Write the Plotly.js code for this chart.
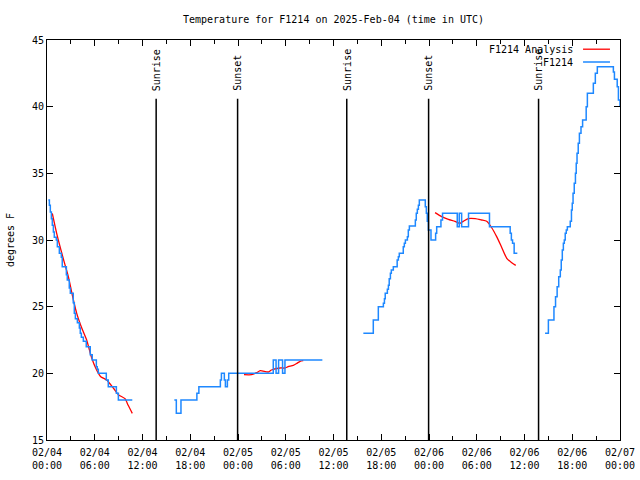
<!DOCTYPE html>
<html><head><meta charset="utf-8">
<script src="https://cdn.plot.ly/plotly-3.0.1.min.js"></script>
<style>html,body{margin:0;padding:0;background:#fff}#chart{width:640px;height:480px}</style>
</head><body><div id="chart"></div>
<script>
// Observed station values (F1214), step-wise; null = data gap
const obsTimes = [
 '2025-02-04 00:10','2025-02-04 00:18','2025-02-04 00:25','2025-02-04 00:33','2025-02-04 00:40','2025-02-04 00:48','2025-02-04 00:55',
 '2025-02-04 01:10','2025-02-04 01:18','2025-02-04 01:33','2025-02-04 01:48','2025-02-04 01:55','2025-02-04 02:26','2025-02-04 02:33',
 '2025-02-04 02:48','2025-02-04 02:56','2025-02-04 03:18','2025-02-04 03:26','2025-02-04 03:34','2025-02-04 03:49','2025-02-04 04:04',
 '2025-02-04 04:11','2025-02-04 04:19','2025-02-04 04:34','2025-02-04 04:56','2025-02-04 05:26','2025-02-04 05:41','2025-02-04 06:12',
 '2025-02-04 06:19','2025-02-04 06:27','2025-02-04 07:27','2025-02-04 07:42','2025-02-04 08:43','2025-02-04 08:58','2025-02-04 10:43',
 '2025-02-04 13:00',
 '2025-02-04 16:00','2025-02-04 16:15','2025-02-04 16:50','2025-02-04 18:50','2025-02-04 19:05','2025-02-04 21:47','2025-02-04 21:55',
 '2025-02-04 22:17','2025-02-04 22:25','2025-02-04 22:40','2025-02-04 22:50','2025-02-05 04:26','2025-02-05 04:47','2025-02-05 05:06',
 '2025-02-05 05:36','2025-02-05 05:54','2025-02-05 10:36',
 '2025-02-05 13:00',
 '2025-02-05 15:45','2025-02-05 17:00','2025-02-05 17:38','2025-02-05 18:16','2025-02-05 18:24','2025-02-05 18:30','2025-02-05 18:46',
 '2025-02-05 18:54','2025-02-05 19:00','2025-02-05 19:09','2025-02-05 19:16','2025-02-05 19:31','2025-02-05 20:00','2025-02-05 20:09',
 '2025-02-05 20:16','2025-02-05 20:46','2025-02-05 20:54','2025-02-05 21:02','2025-02-05 21:17','2025-02-05 21:24','2025-02-05 21:32',
 '2025-02-05 22:17','2025-02-05 22:24','2025-02-05 22:32','2025-02-05 22:40','2025-02-05 22:47','2025-02-05 23:32','2025-02-05 23:40',
 '2025-02-05 23:47','2025-02-05 23:55','2025-02-06 00:15','2025-02-06 00:50','2025-02-06 00:58','2025-02-06 01:30','2025-02-06 01:42',
 '2025-02-06 03:33','2025-02-06 03:48','2025-02-06 04:06','2025-02-06 04:58','2025-02-06 07:36','2025-02-06 10:12','2025-02-06 10:21',
 '2025-02-06 10:30','2025-02-06 10:42','2025-02-06 11:06',
 '2025-02-06 13:00',
 '2025-02-06 14:35','2025-02-06 15:00','2025-02-06 15:42','2025-02-06 15:54','2025-02-06 16:06','2025-02-06 16:18','2025-02-06 16:30',
 '2025-02-06 16:37','2025-02-06 16:45','2025-02-06 16:53','2025-02-06 17:00','2025-02-06 17:07','2025-02-06 17:15','2025-02-06 17:23',
 '2025-02-06 17:45','2025-02-06 17:54','2025-02-06 18:00','2025-02-06 18:06','2025-02-06 18:15','2025-02-06 18:24','2025-02-06 18:30',
 '2025-02-06 18:36','2025-02-06 18:45','2025-02-06 18:54','2025-02-06 19:06','2025-02-06 19:18','2025-02-06 19:45','2025-02-06 19:54',
 '2025-02-06 20:39','2025-02-06 20:54','2025-02-06 21:09','2025-02-06 23:10','2025-02-06 23:18','2025-02-06 23:39','2025-02-06 23:48',
 '2025-02-07 00:00'
];
const obsTemps = [
 33.0,32.6,32.1,31.6,31.1,30.6,30.2,
 30.0,29.5,29.0,28.7,28.0,27.4,27.0,
 26.4,26.0,25.3,24.5,24.1,23.8,23.4,
 23.0,22.7,22.4,22.0,21.4,21.0,20.5,
 20.3,20.0,19.5,19.0,18.5,18.0,18.0,
 null,
 18.0,17.0,18.0,18.5,19.0,19.5,20.0,
 19.5,19.0,19.5,20.0,21.0,20.0,21.0,
 20.0,21.0,21.0,
 null,
 23.0,24.0,25.0,25.25,25.6,26.0,26.3,
 26.6,27.1,27.5,27.75,28.0,28.5,28.75,
 29.0,29.5,29.75,30.0,30.25,30.75,31.05,
 31.5,32.0,32.3,32.6,33.0,32.5,32.0,
 31.4,30.75,30.0,30.5,31.0,31.5,32.0,
 31.0,32.0,31.0,32.0,31.0,30.5,30.0,
 29.75,29.0,29.0,
 null,
 23.0,24.0,25.0,25.75,26.5,27.25,27.75,
 28.5,29.25,29.75,30.0,30.5,30.75,31.0,
 31.4,32.25,32.75,33.5,34.25,35.0,35.75,
 36.5,37.25,38.0,38.5,39.0,40.0,41.0,
 41.75,42.5,43.0,42.6,42.05,41.5,40.5,
 40.0
];
// Analysis values (F1214 Analysis)
const anaTimes = [
 '2025-02-04 00:40','2025-02-04 01:13','2025-02-04 02:11','2025-02-04 02:41','2025-02-04 03:19','2025-02-04 03:44','2025-02-04 04:22',
 '2025-02-04 04:59','2025-02-04 05:37','2025-02-04 06:14','2025-02-04 06:45','2025-02-04 07:30','2025-02-04 08:20','2025-02-04 08:58',
 '2025-02-04 09:48','2025-02-04 10:12','2025-02-04 10:43',
 '2025-02-04 18:00',
 '2025-02-05 00:45','2025-02-05 01:42','2025-02-05 02:21','2025-02-05 02:48','2025-02-05 03:48','2025-02-05 04:12','2025-02-05 05:18',
 '2025-02-05 05:54','2025-02-05 06:18','2025-02-05 06:57','2025-02-05 07:24','2025-02-05 07:48','2025-02-05 08:12',
 '2025-02-05 18:00',
 '2025-02-06 00:46','2025-02-06 01:36','2025-02-06 02:26','2025-02-06 03:16','2025-02-06 03:54','2025-02-06 04:18','2025-02-06 04:56',
 '2025-02-06 05:48','2025-02-06 06:36','2025-02-06 07:15','2025-02-06 07:54','2025-02-06 08:30','2025-02-06 09:06','2025-02-06 09:48',
 '2025-02-06 10:24','2025-02-06 10:54'
];
const anaTemps = [
 32.0,30.5,28.3,27.25,25.5,24.5,23.4,
 22.5,21.15,20.25,19.75,19.5,18.9,18.4,
 18.1,17.6,17.0,
 null,
 19.9,19.9,20.05,20.2,20.1,20.25,20.4,
 20.4,20.5,20.6,20.75,20.9,20.95,
 null,
 32.05,31.75,31.55,31.4,31.25,31.4,31.6,
 31.6,31.5,31.4,30.9,30.25,29.5,28.6,
 28.3,28.1
];
const eventTimes = ['2025-02-04 13:43','2025-02-04 23:57','2025-02-05 13:40','2025-02-05 23:57','2025-02-06 13:46'];
const eventLabels = ['Sunrise','Sunset','Sunrise','Sunset','Sunrise'];
const seriesNames = ['F1214 Analysis','F1214'];
const seriesColors = ['#ff0000','#1e88ff'];

const mono = 'DejaVu Sans Mono, Liberation Mono, monospace';
const traces = [
 {x: anaTimes, y: anaTemps, type:'scatter', mode:'lines', name: seriesNames[0],
  line:{color: seriesColors[0], width:1.3, shape:'spline', smoothing:0.6}, connectgaps:false},
 {x: obsTimes, y: obsTemps, type:'scatter', mode:'lines', name: seriesNames[1],
  line:{color: seriesColors[1], width:1.5, shape:'hv'}, connectgaps:false}
];

const shapes = [];
const annotations = [];
eventTimes.forEach((t,i)=>{
  shapes.push({type:'line', xref:'x', yref:'paper', x0:t, x1:t, y0:0, y1:0.853,
               line:{color:'#000', width:1.5}});
  annotations.push({xref:'x', yref:'paper', x:t, y:0.867, text:eventLabels[i], textangle:-90,
               showarrow:false, xanchor:'center', yanchor:'bottom', font:{family:mono, size:10, color:'#000'}});
});
// gnuplot-style legend: label right-aligned, sample line to its right
const legY = [0.977, 0.945];
seriesNames.forEach((n,i)=>{
  annotations.push({xref:'paper', yref:'paper', x:0.922, y:legY[i], text:n, showarrow:false,
    xanchor:'right', yanchor:'middle', font:{family:mono, size:10, color:'#000'}});
  shapes.push({type:'line', xref:'paper', yref:'paper', x0:0.9355, x1:0.9825, y0:legY[i], y1:legY[i],
    line:{color:seriesColors[i], width: i===0?1.3:1.5}});
});

const layout = {
  width:640, height:480,
  margin:{l:47, r:20, t:40, b:40, pad:0},
  paper_bgcolor:'#fff', plot_bgcolor:'#fff',
  showlegend:false,
  font:{family:mono, size:10, color:'#000'},
  title:{text:'Temperature for F1214 on 2025-Feb-04 (time in UTC)', x:0.5, xref:'paper', xanchor:'center',
         y:1-19/480, yref:'container', yanchor:'middle', font:{family:mono, size:10, color:'#000'}},
  xaxis:{type:'date', range:['2025-02-04 00:00','2025-02-07 00:00'], tick0:'2025-02-04 00:00', dtick:6*3600*1000,
         tickformat:'%m/%d<br>%H:%M', ticks:'inside', ticklen:6, tickcolor:'#000', tickwidth:1, ticklabelstandoff:3,
         showline:true, linecolor:'#000', linewidth:1, mirror:'allticks', showgrid:false, zeroline:false,
         minor:{ticks:'inside', dtick:3*3600*1000, tick0:'2025-02-04 00:00', ticklen:4, tickcolor:'#000', showgrid:false},
         tickfont:{family:mono, size:10, color:'#000'}, automargin:false},
  yaxis:{range:[15,45], dtick:5, tick0:15, ticks:'inside', ticklen:6, tickcolor:'#000', tickwidth:1,
         showline:true, linecolor:'#000', linewidth:1, mirror:'allticks', showgrid:false, zeroline:false,
         tickfont:{family:mono, size:10, color:'#000'}, automargin:false,
         title:{text:'degrees F', standoff:15, font:{family:mono, size:10, color:'#000'}}},
  shapes: shapes,
  annotations: annotations
};
Plotly.newPlot('chart', traces, layout, {displayModeBar:false, staticPlot:true});
</script></body></html>
